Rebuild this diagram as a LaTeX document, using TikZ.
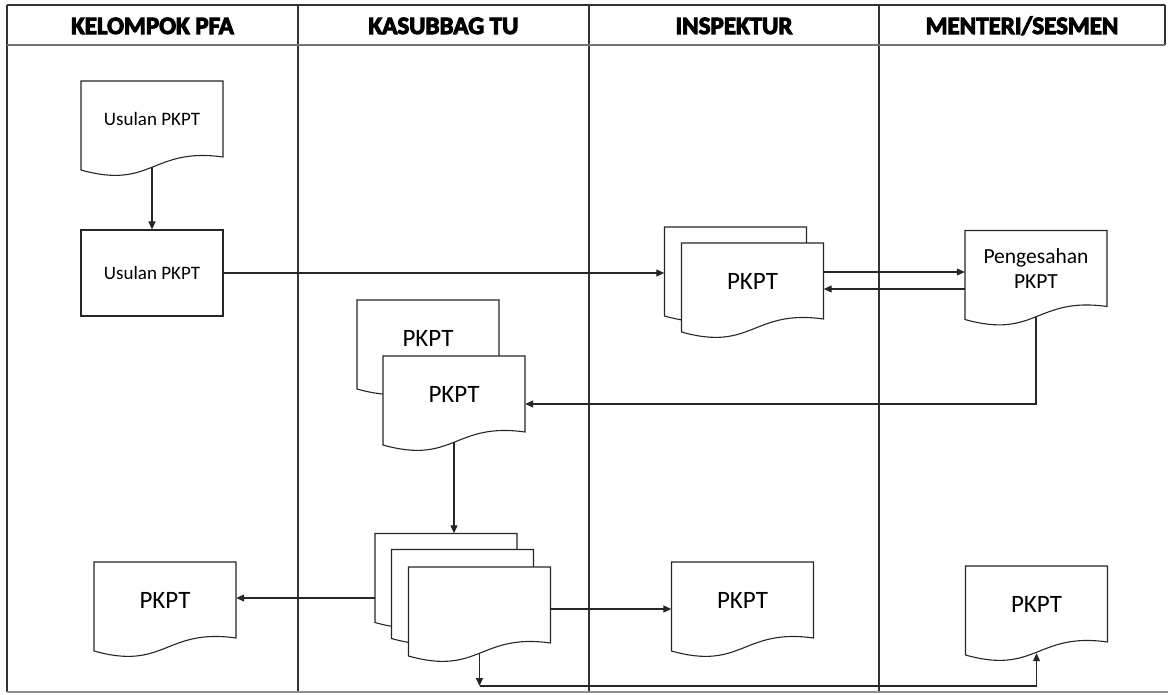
\documentclass[tikz,border=0pt]{standalone}
\usepackage{fontspec}
\setmainfont{Carlito}
\newfontfamily\hdrfont[FakeBold=4]{Carlito Bold}
\usetikzlibrary{arrows.meta,calc,backgrounds}

\tikzset{
  ln/.style={draw=black!85, line width=1.1pt},
  arr/.style={ln, -{Triangle[length=8pt,width=7pt]}},
  frameline/.style={draw=black!80, line width=1.4pt},
  docnode/.style={minimum width=142pt, minimum height=76pt, inner sep=0pt, align=center,
                  font=\fontsize{25}{28}\selectfont},
  smalltxt/.style={font=\fontsize{19}{22}\selectfont},
  midtxt/.style={font=\fontsize{21.5}{25}\selectfont},
  hdr/.style={font=\hdrfont\fontsize{25}{28}\selectfont, anchor=base, inner sep=0pt},
}

% document shape: name, cx, cy (pixel coords, y downward), extra style, text
\newcommand{\docshape}[5]{%
  \path[ln, fill=white] ({#2-71},{#3-38}) -- ({#2+71},{#3-38}) -- ({#2+71},{#3+38})
    .. controls (#2,{#3+28}) and (#2,{#3+71}) .. ({#2-71},{#3+51}) -- cycle;
  \node[docnode,#4] (#1) at (#2,#3) {#5};}

\begin{document}
\begin{tikzpicture}[x=1pt,y=-1pt]
\useasboundingbox (0,0) rectangle (1168,694);

% header texts
\node[hdr] (h1) at (152.5,34) {KELOMPOK PFA};
\node[hdr] (h2) at (443.5,34) {KASUBBAG TU};
\node[hdr] (h3) at (734,34) {INSPEKTUR};
\node[hdr] (h4) at (1022,34) {MENTERI/SESMEN};

% KELOMPOK PFA
\docshape{u1}{152}{119}{smalltxt}{Usulan PKPT}
\node[docnode, smalltxt, ln, fill=white, minimum height=86pt] (u2) at (152,273) {Usulan PKPT};
\docshape{kp}{165}{600}{}{PKPT}

% KASUBBAG TU
\docshape{kb}{428}{338}{}{PKPT}
\docshape{kf}{454}{394}{}{PKPT}
\docshape{m1}{446}{571.5}{}{}
\docshape{m2}{462.5}{587.5}{}{}
\docshape{m3}{479.5}{605}{}{}

% INSPEKTUR
\docshape{ib}{735.5}{265}{}{}
\docshape{ifr}{752.5}{281}{}{PKPT}
\docshape{ip}{742.5}{600}{}{PKPT}

% MENTERI/SESMEN
\docshape{pg}{1036}{268.5}{midtxt}{Pengesahan\\PKPT}
\docshape{mp}{1036.5}{604}{}{PKPT}

% connector end points
\coordinate (ifrA) at ($(ifr.east)+(0,-9)$);
\coordinate (pgB) at ($(pg.west)+(0,20.5)$);
\coordinate (kfIn) at ($(kf.east)+(0,10)$);
\coordinate (kpIn) at ($(kp.east)+(0,-2)$);
\coordinate (m3Out) at ($(m3.east)+(0,4)$);
\coordinate (mpIn) at ($(mp.south)+(0,11)$);
\coordinate (corner) at (479.5,686);

\begin{pgfonlayer}{background}
  % frame
  \draw[frameline] (7,5) -- (1165,5);
  \draw[frameline] (7,5) -- (7,692);
  \draw[frameline] (1165,5) -- (1165,45);
  \draw[frameline] (298,5) -- (298,692);
  \draw[frameline] (589,5) -- (589,692);
  \draw[frameline] (879,5) -- (879,692);
  \draw[draw=black!55, line width=2.6pt] (7,45) -- (1165,45);
  \draw[draw=black!45, line width=1.5pt] (7,692) -- (1168,692);

  % connectors
  \draw[arr] (u1) -- (u2.north);
  \draw[arr] (u2.east) -- (u2.east -| ib.west);
  \draw[arr] (ifrA) -- (ifrA -| pg.west);
  \draw[arr] (pgB) -- (pgB -| ifr.east);
  \draw[arr] (pg) |- (kfIn);
  \draw[arr] (kf) -- (kf |- m1.north);
  \draw[arr] (kpIn -| m1.west) -- (kpIn);
  \draw[arr] (m3Out) -- (m3Out -| ip.west);
  \draw[arr] (m3) -- (corner);
  \draw[arr] (corner) -| (mpIn);
\end{pgfonlayer}
\end{tikzpicture}
\end{document}
